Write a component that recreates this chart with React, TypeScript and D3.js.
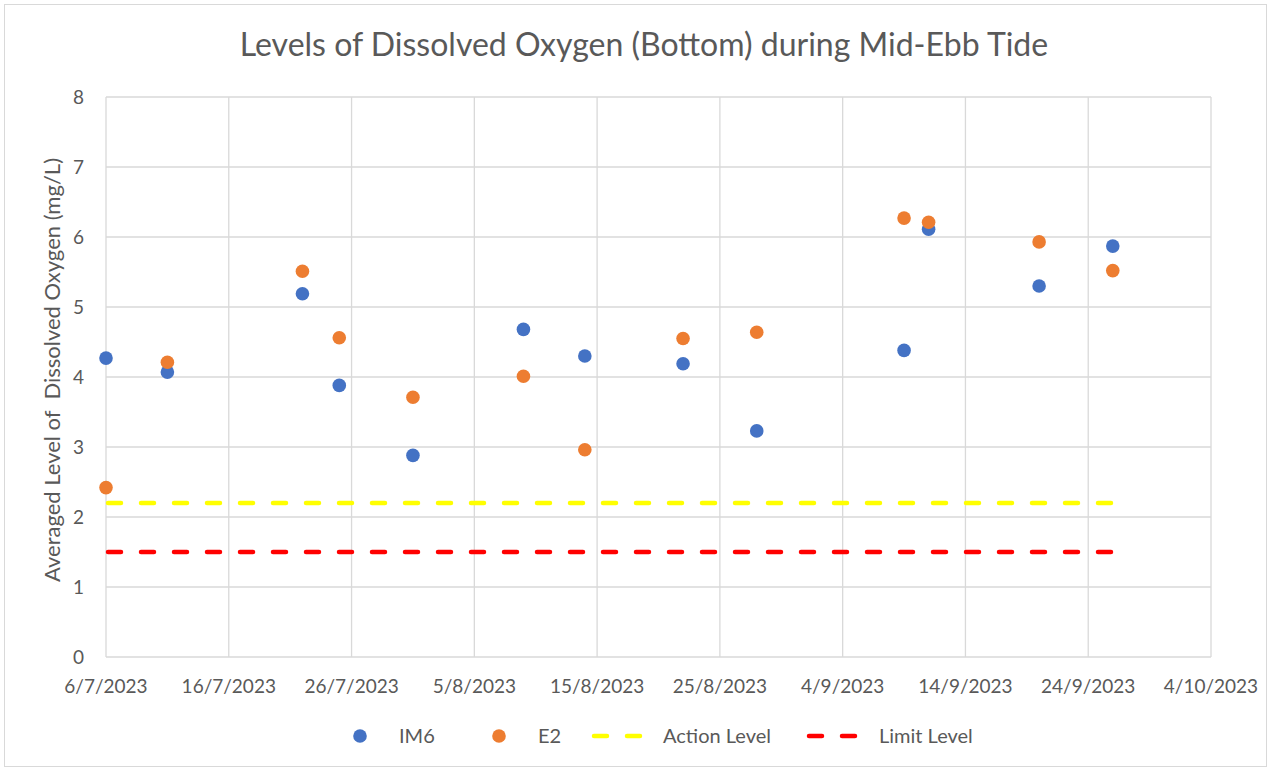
import React from "react";
import * as d3 from "d3";

const dates = ["2023-07-06","2023-07-11","2023-07-22","2023-07-25","2023-07-31","2023-08-09","2023-08-14","2023-08-22","2023-08-28","2023-09-09","2023-09-11","2023-09-20","2023-09-26"];
const im6 = [4.27,4.07,5.19,3.88,2.88,4.68,4.30,4.19,3.23,4.38,6.11,5.30,5.87];
const e2 = [2.42,4.21,5.51,4.56,3.71,4.01,2.96,4.55,4.64,6.27,6.21,5.93,5.52];
const actionLevel = 2.2;
const limitLevel = 1.5;
const levelRange = ["2023-07-06","2023-09-26"];
const xTicks = ["2023-07-06","2023-07-16","2023-07-26","2023-08-05","2023-08-15","2023-08-25","2023-09-04","2023-09-14","2023-09-24","2023-10-04"];
const yTicks = [0,1,2,3,4,5,6,7,8];

const W = 1271, H = 771;
const FONT = "Lato, 'Open Sans', sans-serif";
const TXT = "#595959";
const GRID = "#d9d9d9";
const BLUE = "#4472c4";
const ORANGE = "#ed7d31";

const parse = (s: string) => new Date(s + "T00:00:00");
const fmt = (d: Date) => `${d.getDate()}/${d.getMonth() + 1}/${d.getFullYear()}`;

export default function App() {
  const x = d3.scaleTime().domain([parse(xTicks[0]), parse(xTicks[xTicks.length - 1])]).range([106, 1211]);
  const y = d3.scaleLinear().domain([0, 8]).range([657, 97]);
  const line = d3.line<[Date, number]>().x(d => x(d[0])).y(d => y(d[1]));
  const lvl = (v: number) => line(levelRange.map(s => [parse(s), v] as [Date, number])) || "";

  return (
    <div style={{ position: "fixed", left: 0, top: 0 }}>
      <svg width={W} height={H} style={{ display: "block", background: "#fff" }} fontFamily={FONT}>
        <rect x={4.5} y={4.5} width={W - 9} height={H - 9} fill="#fff" stroke={GRID} strokeWidth={1} />
        <text x={644} y={56} textAnchor="middle" fontSize={32} fill={TXT}>Levels of Dissolved Oxygen (Bottom) during Mid-Ebb Tide</text>
        {yTicks.map(t => (
          <g key={"y" + t}>
            <line x1={106} x2={1211} y1={y(t)} y2={y(t)} stroke={GRID} strokeWidth={1.3} />
            <text x={84} y={y(t)} dy="0.35em" textAnchor="end" fontSize={19} fill={TXT}>{t}</text>
          </g>
        ))}
        {xTicks.map(t => (
          <g key={"x" + t}>
            <line x1={x(parse(t))} x2={x(parse(t))} y1={97} y2={657} stroke={GRID} strokeWidth={1.3} />
            <text x={x(parse(t))} y={693} textAnchor="middle" fontSize={19} fill={TXT}>{fmt(parse(t))}</text>
          </g>
        ))}
        <text transform={`translate(60,370) rotate(-90)`} textAnchor="middle" fontSize={22} fill={TXT} style={{ whiteSpace: "pre" }}>Averaged Level of  Dissolved Oxygen (mg/L)</text>
        <path d={lvl(actionLevel)} stroke="#ffff00" strokeWidth={4.5} strokeDasharray="13 20" strokeLinecap="round" fill="none" transform="translate(2,0)" />
        <path d={lvl(limitLevel)} stroke="#ff0000" strokeWidth={4.5} strokeDasharray="13 20" strokeLinecap="round" fill="none" transform="translate(2,0)" />
        {dates.map((d, i) => (
          <circle key={"b" + i} cx={x(parse(d))} cy={y(im6[i])} r={6.8} fill={BLUE} />
        ))}
        {dates.map((d, i) => (
          <circle key={"o" + i} cx={x(parse(d))} cy={y(e2[i])} r={6.8} fill={ORANGE} />
        ))}
        <g fontSize={20} fill={TXT}>
          <circle cx={360} cy={736} r={6.8} fill={BLUE} />
          <text x={399} y={736} dy="0.35em">IM6</text>
          <circle cx={499} cy={736} r={6.8} fill={ORANGE} />
          <text x={538} y={736} dy="0.35em">E2</text>
          <line x1={592} x2={643} y1={736} y2={736} stroke="#ffff00" strokeWidth={4.5} strokeDasharray="13 20" strokeLinecap="round" transform="translate(2,0)" />
          <text x={663} y={736} dy="0.35em">Action Level</text>
          <line x1={807} x2={858} y1={736} y2={736} stroke="#ff0000" strokeWidth={4.5} strokeDasharray="13 20" strokeLinecap="round" transform="translate(2,0)" />
          <text x={879} y={736} dy="0.35em">Limit Level</text>
        </g>
      </svg>
    </div>
  );
}
